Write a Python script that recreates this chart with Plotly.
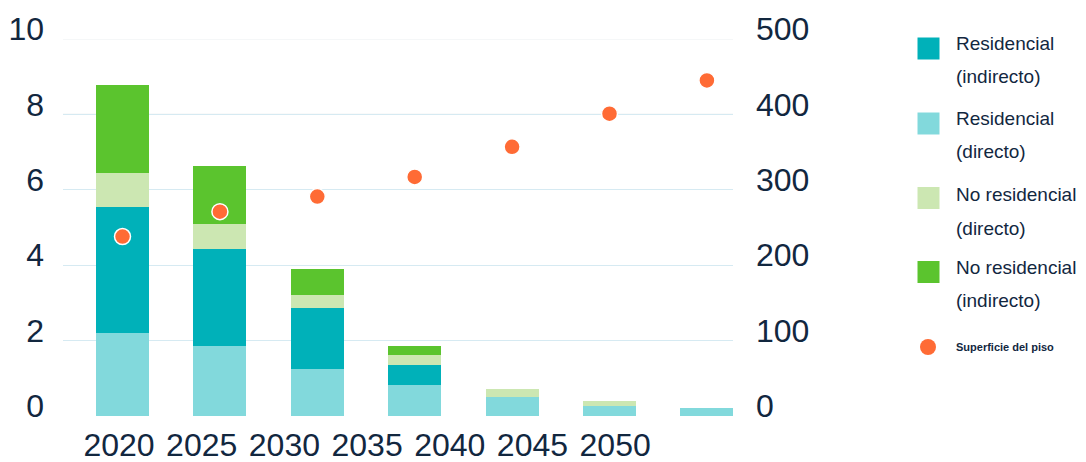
import plotly.graph_objects as go

# Years and stacked series (left axis)
years = ["2020", "2025", "2030", "2035", "2040", "2045", "2050"]
res_directo = [2.21, 1.85, 1.26, 0.81, 0.50, 0.27, 0.20]
res_indirecto = [3.33, 2.59, 1.60, 0.55, 0.0, 0.0, 0.0]
nores_directo = [0.91, 0.64, 0.36, 0.25, 0.21, 0.12, 0.0]
nores_indirecto = [2.34, 1.55, 0.69, 0.26, 0.0, 0.0, 0.0]
# Floor area (right axis)
superficie = [238, 271, 291, 317, 357, 401, 445]

left_ticks = [0, 2, 4, 6, 8, 10]
right_ticks = [0, 100, 200, 300, 400, 500]

names = {
    "res_ind": "Residencial (indirecto)",
    "res_dir": "Residencial (directo)",
    "nores_dir": "No residencial (directo)",
    "nores_ind": "No residencial (indirecto)",
    "sup": "Superficie del piso",
}
colors = {
    "res_ind": "#00b1b9",
    "res_dir": "#82d9dc",
    "nores_dir": "#cce7b2",
    "nores_ind": "#5bc42e",
    "sup": "#ff6b35",
}

FONT = "Liberation Sans, Arial, sans-serif"
TXT = "#12273f"
W, H = 1086, 462
ML, MR, MT, MB = 63, 353, 39, 46
PW, PH = W - ML - MR, H - MT - MB

xpos = list(range(len(years)))
# Year labels sit on their own spacing along the axis
tick_start, tick_step = -0.036, 0.849
tickvals = [tick_start + tick_step * i for i in range(len(years))]

fig = go.Figure()
series = [
    ("res_dir", res_directo),
    ("res_ind", res_indirecto),
    ("nores_dir", nores_directo),
    ("nores_ind", nores_indirecto),
]
for key, vals in series:
    fig.add_trace(go.Bar(
        x=xpos, y=vals, name=names[key], width=0.545,
        marker=dict(color=colors[key], line=dict(width=0)),
        showlegend=False,
    ))

fig.add_trace(go.Scatter(
    x=xpos, y=superficie, yaxis="y2", mode="markers", name=names["sup"],
    marker=dict(size=16, color=colors["sup"], line=dict(color="white", width=1.5)),
    showlegend=False,
))


def px_x(px):
    return (px - ML) / PW


def px_y(py):
    return (H - MB - py) / PH


shapes = []
annotations = []
# Special gridline tints
shapes.append(dict(type="line", xref="paper", yref="y", x0=0, x1=1, y0=8, y1=8,
                   line=dict(color="#c4cacd", width=1), layer="below"))
shapes.append(dict(type="line", xref="paper", yref="y", x0=0, x1=1, y0=10, y1=10,
                   line=dict(color="#eceff1", width=1), layer="below"))

# Legend built beside the plot
legend_items = [
    ("res_ind", 48.5, (43.5, 76.5)),
    ("res_dir", 123.5, (118.5, 151.5)),
    ("nores_dir", 198, (194.5, 228)),
    ("nores_ind", 272, (267, 300)),
]
for key, cy, (l1, l2) in legend_items:
    shapes.append(dict(type="rect", xref="paper", yref="paper",
                       x0=px_x(917.5), x1=px_x(939.5), y0=px_y(cy + 11), y1=px_y(cy - 11),
                       fillcolor=colors[key], line=dict(width=0)))
    first, second = names[key].split(" (")
    for txt, ly in ((first, l1), ("(" + second, l2)):
        annotations.append(dict(xref="paper", yref="paper", x=px_x(954), y=px_y(ly),
                                xanchor="left", yanchor="middle", showarrow=False,
                                text=txt, font=dict(family=FONT, size=19, color=TXT)))
shapes.append(dict(type="circle", xref="paper", yref="paper",
                   x0=px_x(920), x1=px_x(936), y0=px_y(355), y1=px_y(339),
                   fillcolor=colors["sup"], line=dict(width=0)))
annotations.append(dict(xref="paper", yref="paper", x=px_x(954), y=px_y(347),
                        xanchor="left", yanchor="middle", showarrow=False,
                        text="<b>" + names["sup"] + "</b>",
                        font=dict(family=FONT, size=11, color=TXT)))

fig.update_layout(
    width=W, height=H, autosize=False,
    margin=dict(l=ML, r=MR, t=MT, b=MB, pad=0, autoexpand=False),
    paper_bgcolor="white", plot_bgcolor="white",
    barmode="stack", bargap=0,
    showlegend=False,
    font=dict(family=FONT, color=TXT),
    xaxis=dict(range=[-0.611, 6.268], tickvals=tickvals, ticktext=years,
               showgrid=False, zeroline=False, showline=False, ticks="",
               automargin=False,
               tickfont=dict(size=32, color=TXT), ticklabelstandoff=7),
    yaxis=dict(range=[0, 10], tickvals=left_ticks, showgrid=True,
               gridcolor="#d6eaf2", gridwidth=1, zeroline=False, showline=False,
               ticks="", automargin=False, tickfont=dict(size=32, color=TXT),
               ticklabelstandoff=18, ticklabelshift=-10),
    yaxis2=dict(range=[0, 500], tickvals=right_ticks, overlaying="y", side="right",
                showgrid=False, zeroline=False, showline=False, ticks="",
                automargin=False, tickfont=dict(size=32, color=TXT),
                ticklabelstandoff=22, ticklabelshift=-10),
    shapes=shapes,
    annotations=annotations,
)

fig.write_html("out.html")
